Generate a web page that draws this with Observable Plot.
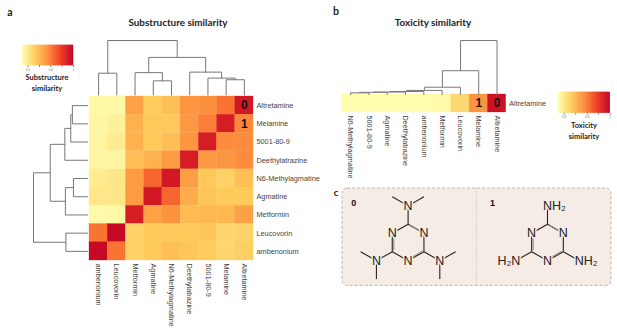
<!DOCTYPE html>
<html><head><meta charset="utf-8">
<script src="https://cdn.jsdelivr.net/npm/d3@7"></script>
<script src="https://cdn.jsdelivr.net/npm/@observablehq/plot@0.6"></script>
<style>
html,body{margin:0;padding:0;background:#fff}
#c{position:relative;width:617px;height:328px;overflow:hidden}
#c svg{position:absolute;overflow:visible;background:transparent;font-family:'Liberation Sans',Arial,sans-serif}
.t{position:absolute;font-family:Lato,sans-serif;font-weight:700;color:#222;white-space:nowrap;text-align:center;line-height:1}
</style></head><body><div id="c"></div>
<script>
const columnsA = ["ambenonium","Leucovorin","Metformin","Agmatine","N6-Methylagmatine","Deethylatrazine","5001-80-9","Melamine","Altretamine"];
const rowsA = ["Altretamine","Melamine","5001-80-9","Deethylatrazine","N6-Methylagmatine","Agmatine","Metformin","Leucovorin","ambenonium"];
const valuesA = [
 [.13,.13,.48,.32,.37,.52,.54,.62,.91],
 [.14,.16,.42,.34,.34,.51,.59,.89,.57],
 [.15,.19,.42,.33,.37,.52,.89,.55,.55],
 [.14,.15,.37,.42,.50,.89,.51,.52,.55],
 [.19,.21,.50,.66,.91,.49,.34,.30,.37],
 [.21,.21,.50,.91,.66,.44,.35,.33,.33],
 [.12,.13,.89,.48,.53,.39,.40,.40,.48],
 [.62,.96,.30,.33,.34,.34,.35,.28,.30],
 [.96,.62,.30,.33,.37,.35,.32,.28,.31]];
// dendrogram merges: [left, right, height]; a string is a leaf, a number is an earlier merge
const mergesA = [
 ["ambenonium","Leucovorin",.40],
 ["Agmatine","N6-Methylagmatine",.26],
 ["Metformin",1,.41],
 ["Melamine","Altretamine",.28],
 ["5001-80-9",3,.31],
 ["Deethylatrazine",4,.42],
 [2,5,.69],
 [0,6,1]];
const columnsB = ["N6-Methylagmatine","5001-80-9","Agmatine","Deethylatrazine","ambenonium","Metformin","Leucovorin","Melamine","Altretamine"];
const valuesB = [.11,.11,.11,.11,.11,.12,.27,.52,.93];
const mergesB = [
 ["N6-Methylagmatine","5001-80-9",.03],
 [0,"Agmatine",.04],
 [1,"Deethylatrazine",.045],
 [2,"ambenonium",.055],
 [3,"Metformin",.075],
 [4,"Leucovorin",.135],
 [5,"Melamine",.44],
 [6,"Altretamine",1]];
const colorDomain = [.1,.325,.55,.775,1];
const colorRange = ["#ffffb2","#fecc5c","#fd8d3c","#f03b20","#bd0026"];
const legendTicks = [.2,.4,.6,.8,1];
const legendLabels = [.2,.6,1];
const ringBonds = [[0,1,.866,.5],[.866,.5,.866,-.5],[.866,-.5,0,-1],[0,-1,-.866,-.5],[-.866,-.5,-.866,.5],[-.866,.5,0,1]];
const doubleBonds = [[.09,.95,.78,.55],[.78,-.47,.09,-.87],[-.78,-.42,-.78,.42]];
const aminoBonds = [[0,1,0,2],[.866,-.5,1.732,-1],[-.866,-.5,-1.732,-1]];
const methylBonds = [[0,2,-.866,2.5],[0,2,.866,2.5],[-1.732,-1,-2.598,-.5],[-1.732,-1,-1.732,-2],[1.732,-1,2.598,-.5],[1.732,-1,1.732,-2]];
const ringN = [[.866,.5],[0,-1],[-.866,.5]];
const mol1Offset = 7.617;

const root = document.getElementById("c");
const FONT = "Liberation Sans";
const LABEL = "#444";
const colorOpt = {type:"linear",domain:colorDomain,range:colorRange,interpolate:"rgb"};

function place(el,l,t){el.style.left=l+"px";el.style.top=t+"px";root.appendChild(el);}
function text(s,cx,top,size){const d=document.createElement("div");d.className="t";d.textContent=s;d.style.fontSize=size+"px";d.style.top=top+"px";d.style.left=cx+"px";d.style.transform="translateX(-50%)";root.appendChild(d);}

function dendro(merges,order){
  const pos=[];const out=[];
  const leaf=n=>order.indexOf(n)+.5;
  merges.forEach((m,i)=>{
    const side=c=>typeof c==="string"?[leaf(c),0]:[pos[c],merges[c][2]];
    const [xa,ha]=side(m[0]),[xb,hb]=side(m[1]);
    out.push({id:i,p:xa,h:ha},{id:i,p:xa,h:m[2]},{id:i,p:xb,h:m[2]},{id:i,p:xb,h:hb});
    pos[i]=(xa+xb)/2;
  });
  return out;
}
function topDendro(merges,order,l,t,w,h){
  place(Plot.plot({width:w,height:h,margin:0,x:{domain:[0,9],axis:null},y:{domain:[0,1],axis:null},
    marks:[Plot.line(dendro(merges,order),{x:"p",y:"h",z:"id",stroke:"#777",strokeWidth:1,curve:"linear"})]}),l,t);
}
function legend(l,t,w,h){
  const steps=d3.range(.1,1,.0125);
  place(Plot.plot({width:w,height:h+12,marginTop:0,marginLeft:0,marginRight:0,marginBottom:12,
    x:{domain:[.1,1],axis:null},y:{axis:null,domain:[0,1]},color:colorOpt,
    marks:[
      Plot.rect(steps,{x1:d=>d,x2:d=>d+.0125,y1:0,y2:1,fill:d=>d,stroke:d=>d,strokeWidth:.5}),
      Plot.axisX({ticks:legendTicks,tickSize:2,tickPadding:1,fontSize:3,stroke:"#888",fill:"#666",label:null,fontFamily:FONT,
        tickFormat:d=>legendLabels.includes(d)?String(d):""})
    ]}),l,t);
}

// panel a
const cellsA=rowsA.flatMap((r,i)=>columnsA.map((c,j)=>({r,c,v:valuesA[i][j]})));
place(Plot.plot({width:164+68,height:164+66,marginTop:0,marginLeft:0,marginRight:68,marginBottom:66,style:{fontFamily:FONT},
  x:{domain:columnsA,padding:0,round:false,axis:null},y:{domain:rowsA,padding:0,round:false,axis:null},color:colorOpt,
  marks:[
    Plot.cell(cellsA,{x:"c",y:"r",fill:"v",stroke:"v",strokeWidth:.3}),
    Plot.text([{c:"Altretamine",r:"Altretamine",s:"0"},{c:"Altretamine",r:"Melamine",s:"1"}],{x:"c",y:"r",text:"s",fontSize:12,fontWeight:700,fill:"#111",fontFamily:FONT}),
    Plot.axisY({anchor:"right",tickSize:0,tickPadding:3,fontSize:7.3,fill:LABEL,label:null,fontFamily:FONT}),
    Plot.axisX({anchor:"bottom",tickSize:0,tickPadding:3,tickRotate:90,fontSize:7.3,fill:LABEL,label:null,fontFamily:FONT,textAnchor:"start"})
  ]}),89,96);
topDendro(mergesA,columnsA,89,40,164,54.5);
const leftPts=dendro(mergesA,[...rowsA]);
place(Plot.plot({width:54,height:164,margin:0,x:{domain:[1,0],axis:null},y:{domain:[0,9],reverse:true,axis:null},
  marks:[Plot.line(leftPts,{x:"h",y:"p",z:"id",stroke:"#777",strokeWidth:1})]}),33,96);
legend(21.5,45,51,20);
text("Substructure",47,74,7.5);text("similarity",47,84.5,7.5);
text("Substructure similarity",178,18,9.9);
text("a",10,7,10.5);

// panel b
const rowB="Altretamine";
place(Plot.plot({width:164.7+68,height:18+66,marginTop:0,marginLeft:0,marginRight:68,marginBottom:66,style:{fontFamily:FONT},
  x:{domain:columnsB,padding:0,round:false,axis:null},y:{domain:[rowB],padding:0,round:false,axis:null},color:colorOpt,
  marks:[
    Plot.cell(columnsB.map((c,i)=>({c,v:valuesB[i]})),{x:"c",y:()=>rowB,fill:"v",stroke:"v",strokeWidth:.3}),
    Plot.text([{c:"Altretamine",s:"0"},{c:"Melamine",s:"1"}],{x:"c",y:()=>rowB,text:"s",fontSize:12,fontWeight:700,fill:"#111",fontFamily:FONT}),
    Plot.axisY({anchor:"right",tickSize:0,tickPadding:3,fontSize:7.3,fill:LABEL,label:null,fontFamily:FONT}),
    Plot.axisX({anchor:"bottom",tickSize:0,tickPadding:3,tickRotate:90,fontSize:7.3,fill:LABEL,label:null,fontFamily:FONT,textAnchor:"start"})
  ]}),341,94.3);
topDendro(mergesB,columnsB,341,40,164.7,54);
legend(558.3,92,51.7,20.7);
text("Toxicity",584,122,7.5);text("similarity",584,133,7.5);
text("Toxicity similarity",433,18,9.9);
text("b",336,6,10.5);
text("c",336,188,9.5);

// panel c
function bonds(list,dx,stroke,w){return Plot.link(list,{x1:d=>d[0]+dx,y1:d=>d[1],x2:d=>d[2]+dx,y2:d=>d[3],stroke,strokeWidth:w});}
const BG="#f4ece5";
const atom=(pts,s,extra={})=>Plot.text(pts,{x:d=>d[0],y:d=>d[1],text:()=>s,fontSize:12.5,fill:"#222",fontFamily:FONT,stroke:BG,strokeWidth:3,paintOrder:"stroke",...extra});
const xd=[-3.585,11.115],yd=[-2.37,2.95];
place(Plot.plot({width:269,height:97.4,margin:0,style:{fontFamily:FONT},x:{domain:xd,axis:null},y:{domain:yd,axis:null},
  marks:[
    Plot.rect([0],{x1:xd[0],x2:xd[1],y1:yd[0],y2:yd[1],fill:BG,stroke:"#b5b0ab",strokeDasharray:"3,2",strokeWidth:.9,rx:5}),
    Plot.ruleX([(xd[0]+xd[1])/2-.03],{y1:yd[0],y2:yd[1],stroke:"#c5c0ba",strokeDasharray:"1.5,1.5",strokeWidth:.8}),
    bonds(ringBonds,0,"#222",1.1),bonds(aminoBonds,0,"#222",1.1),bonds(methylBonds,0,"#222",1.1),bonds(doubleBonds,0,"#888",1),
    bonds(ringBonds,mol1Offset,"#222",1.1),bonds(aminoBonds,mol1Offset,"#222",1.1),bonds(doubleBonds,mol1Offset,"#888",1),
    atom([...ringN,[0,2],[-1.732,-1],[1.732,-1]],"N"),
    atom(ringN.map(d=>[d[0]+mol1Offset,d[1]]),"N"),
    atom([[mol1Offset,2]],"NH₂",{textAnchor:"start",dx:-4.5}),
    atom([[mol1Offset+1.732,-1]],"NH₂",{textAnchor:"start",dx:-4.5}),
    atom([[mol1Offset-1.732,-1]],"H₂N",{textAnchor:"end",dx:4.5}),
    Plot.text([[-2.97,2.17],[mol1Offset-3.0,2.17]],{x:d=>d[0],y:d=>d[1],text:(d,i)=>String(i),fontSize:9,fontWeight:700,fill:"#111",fontFamily:FONT})
  ]}),341.7,188.3);
</script></body></html>
